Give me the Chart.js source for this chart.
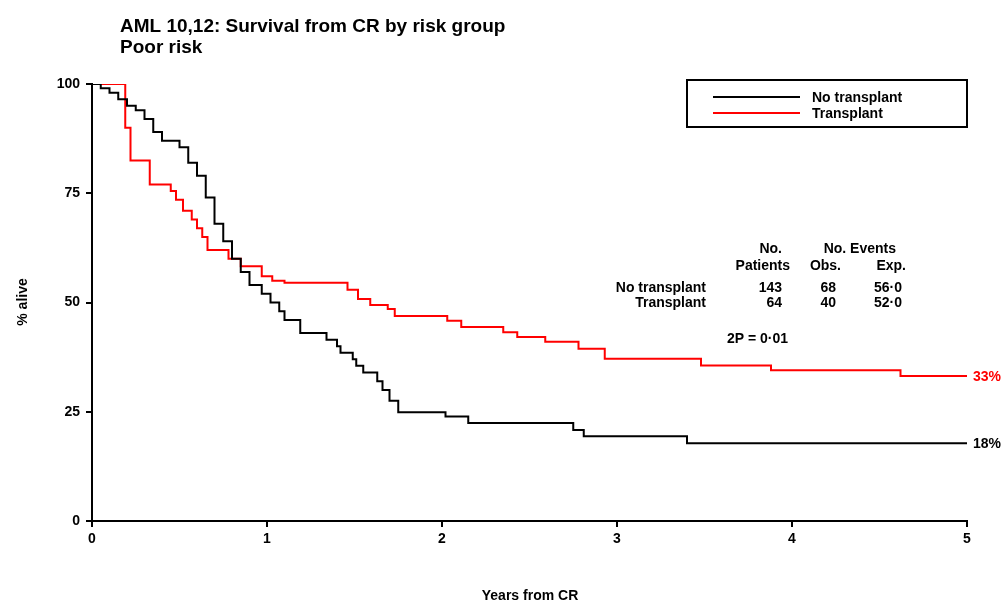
<!DOCTYPE html>
<html><head><meta charset="utf-8">
<script src="https://cdn.jsdelivr.net/npm/chart.js@4"></script>
<style>body{margin:0;background:#fff}#wrap{width:1004px;height:603px}</style>
</head><body><div id="wrap"><canvas id="chart"></canvas></div>
<script>
// Kaplan-Meier steps: [years, % alive]
const noTransplant = [[0,100],[0.05,99],[0.1,98],[0.15,96.5],[0.2,95],[0.25,94],[0.3,92],[0.35,89],[0.4,87],[0.5,85.5],[0.55,82],[0.6,79],[0.65,74],[0.7,68],[0.75,64],[0.8,60],[0.85,57],[0.9,54],[0.97,52],[1.02,50],[1.07,48],[1.1,46],[1.19,43],[1.34,41.5],[1.4,40],[1.42,38.5],[1.49,37],[1.51,35.5],[1.55,34],[1.63,32],[1.66,30],[1.7,27.5],[1.75,24.9],[2.02,23.9],[2.15,22.4],[2.75,20.8],[2.81,19.4],[3.4,17.8],[5,17.8]];
const transplant = [[0,100],[0.19,90],[0.22,82.5],[0.33,77],[0.45,75.5],[0.48,73.5],[0.52,71],[0.57,69],[0.6,67],[0.63,65],[0.66,62],[0.78,60],[0.85,58.3],[0.97,56],[1.03,55],[1.1,54.5],[1.46,52.9],[1.52,50.8],[1.59,49.4],[1.69,48.5],[1.73,46.9],[2.03,45.8],[2.11,44.4],[2.35,43.2],[2.43,42.1],[2.59,41],[2.78,39.4],[2.93,37.1],[3.48,35.6],[3.88,34.5],[4.62,33.2],[5,33.2]];
const xTicks = [0,1,2,3,4,5];
const yTicks = [0,25,50,75,100];
const seriesNames = ["No transplant","Transplant"];
const seriesColors = ["#000000","#ff0000"];

const toPts = arr => arr.map(p => ({x:p[0], y:p[1]}));
const F = "Arial, 'Liberation Sans', sans-serif";

const textPlugin = {
  id:'texts',
  afterDraw(chart){
    const c = chart.ctx;
    c.save();
    c.fillStyle = '#000';
    c.font = 'bold 19px ' + F;
    c.textAlign = 'left'; c.textBaseline = 'alphabetic';
    c.fillText('AML 10,12: Survival from CR by risk group', 120, 32);
    c.fillText('Poor risk', 120, 53);
    c.font = 'bold 14px ' + F;
    c.textAlign = 'center';
    c.fillText('Years from CR', 530, 600);
    c.save(); c.translate(22, 302); c.rotate(-Math.PI/2);
    c.fillText('% alive', 0, 5); c.restore();
    // legend box
    c.lineWidth = 2; c.strokeStyle = '#000';
    c.strokeRect(687, 80, 280, 47);
    c.textAlign = 'left';
    seriesNames.forEach((n, i) => {
      const y = 97 + i*16;
      c.strokeStyle = seriesColors[i];
      c.beginPath(); c.moveTo(713, y); c.lineTo(800, y); c.stroke();
      c.fillStyle = '#000';
      c.fillText(n, 812, y + 5);
    });
    // stats table
    c.textAlign = 'right';
    c.fillText('No.', 782, 253);
    c.fillText('Patients', 790, 270);
    c.fillText('No. Events', 896, 253);
    c.fillText('Obs.', 841, 270);
    c.fillText('Exp.', 906, 270);
    c.fillText('No transplant', 706, 292);
    c.fillText('Transplant', 706, 307);
    c.fillText('143', 782, 292); c.fillText('64', 782, 307);
    c.fillText('68', 836, 292); c.fillText('40', 836, 307);
    c.fillText('56\u00b70', 902, 292); c.fillText('52\u00b70', 902, 307);
    c.textAlign = 'left';
    c.fillText('2P = 0\u00b701', 727, 343);
    c.fillStyle = '#ff0000'; c.fillText('33%', 973, 381);
    c.fillStyle = '#000'; c.fillText('18%', 973, 448);
    c.restore();
  }
};

new Chart(document.getElementById('chart'), {
  type:'line',
  data:{datasets:[
    {label:seriesNames[0], data:toPts(noTransplant), borderColor:seriesColors[0], borderWidth:2, stepped:'before', pointRadius:0, fill:false},
    {label:seriesNames[1], data:toPts(transplant), borderColor:seriesColors[1], borderWidth:2, stepped:'before', pointRadius:0, fill:false}
  ]},
  options:{
    responsive:true, maintainAspectRatio:false, animation:false,
    layout:{padding:{top:84, right:37, left:0, bottom:0}},
    plugins:{legend:{display:false}, tooltip:{enabled:false}},
    scales:{
      x:{type:'linear', min:0, max:5,
        afterFit(s){ s.height = 82; },
        afterBuildTicks(s){ s.ticks = xTicks.map(v => ({value:v})); },
        grid:{display:true, drawOnChartArea:false, drawTicks:true, tickLength:6, color:'#000', lineWidth:2},
        border:{color:'#000', width:2},
        ticks:{color:'#000', font:{family:F, size:14, weight:'bold'}, padding:4}
      },
      y:{min:0, max:100,
        afterFit(s){ s.width = 92; },
        afterBuildTicks(s){ s.ticks = yTicks.map(v => ({value:v})); },
        grid:{display:true, drawOnChartArea:false, drawTicks:true, tickLength:6, color:'#000', lineWidth:2},
        border:{color:'#000', width:2},
        ticks:{color:'#000', font:{family:F, size:14, weight:'bold'}, padding:6}
      }
    }
  },
  plugins:[textPlugin]
});
</script></body></html>
